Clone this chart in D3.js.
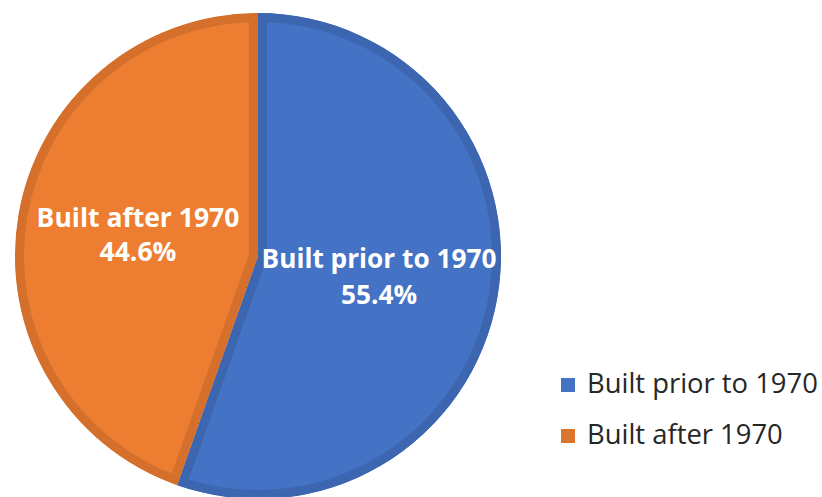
<!DOCTYPE html>
<html>
<head>
<meta charset="utf-8">
<script src="https://cdn.jsdelivr.net/npm/d3@7"></script>
<style>
  body { margin: 0; background: #fff; }
  svg text { font-family: "Open Sans", sans-serif; }
</style>
</head>
<body>
<div id="chart"></div>
<script>
// data
var categories = ["Built prior to 1970", "Built after 1970"];
var shares = [55.4, 44.6];
var fills = ["#4472C4", "#ED7D31"];
var edges = ["#3D66B0", "#D5702C"];

var width = 822, height = 497;
var cx = 258, cy = 256, radius = 243;

var svg = d3.select("#chart")
  .append("svg")
  .attr("width", width)
  .attr("height", height);

var pie = d3.pie().sort(null).value(function(d) { return d; });
var arcs = pie(shares);
var arc = d3.arc().innerRadius(0).outerRadius(radius);

var defs = svg.append("defs");
var g = svg.append("g").attr("transform", "translate(" + cx + "," + cy + ")");

arcs.forEach(function(a, i) {
  defs.append("clipPath").attr("id", "clip" + i)
    .append("path").attr("d", arc(a));
  g.append("path")
    .attr("d", arc(a))
    .attr("fill", fills[i])
    .attr("stroke", edges[i])
    .attr("stroke-width", 18)
    .attr("clip-path", "url(#clip" + i + ")");
});

// fit a text element's font size to a target width
function fit(sel, w) {
  var len = sel.node().getComputedTextLength();
  var fs = parseFloat(sel.attr("font-size"));
  sel.attr("font-size", fs * w / len);
}

// slice labels
var labelPos = [[379, 268, 304, 235], [138, 227, 261, 203]];
arcs.forEach(function(a, i) {
  var p = labelPos[i];
  var t1 = svg.append("text")
    .attr("x", p[0]).attr("y", p[1])
    .attr("text-anchor", "middle")
    .attr("font-size", 24).attr("font-weight", "bold")
    .attr("fill", "#fff")
    .text(categories[i]);
  fit(t1, p[3]);
  svg.append("text")
    .attr("x", p[0]).attr("y", p[2])
    .attr("text-anchor", "middle")
    .attr("font-size", t1.attr("font-size")).attr("font-weight", "bold")
    .attr("fill", "#fff")
    .text(d3.format(".1f")(a.data) + "%");
});

// legend
var legend = svg.append("g").attr("transform", "translate(561,378)");
categories.forEach(function(c, i) {
  legend.append("rect")
    .attr("x", 0).attr("y", i * 51)
    .attr("width", 14).attr("height", 14)
    .attr("fill", i === 0 ? fills[i] : "#D9752F");
  var t = legend.append("text")
    .attr("x", 26).attr("y", i * 51 + 15)
    .attr("font-size", 20).attr("fill", "#262626")
    .text(c);
  if (i === 0) fit(t, 231);
  else t.attr("font-size", legend.select("text").attr("font-size"));
});
</script>
</body>
</html>
